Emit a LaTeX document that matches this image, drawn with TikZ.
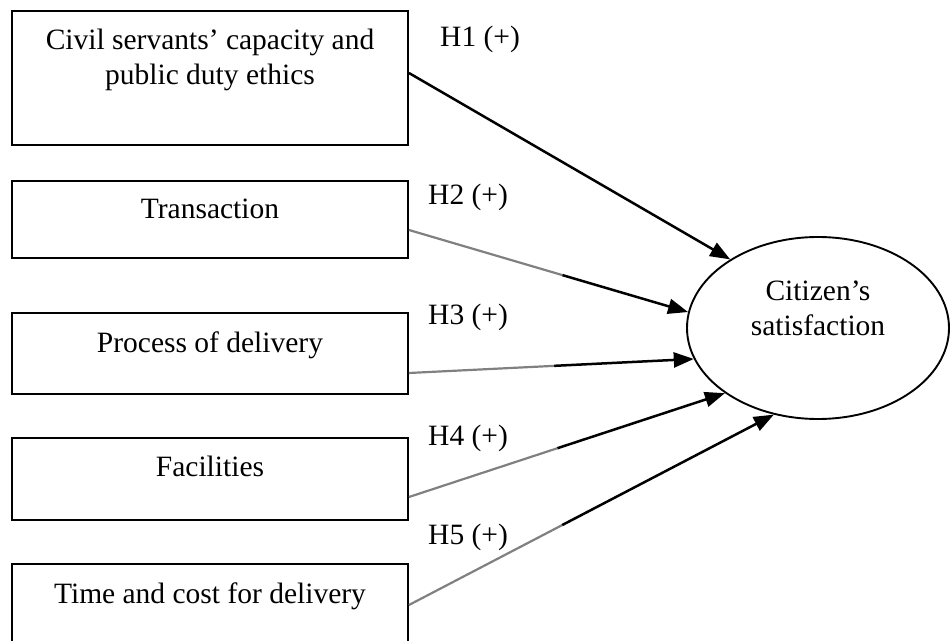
\documentclass[tikz,border=0pt]{standalone}
\usepackage{fontspec}
\setmainfont{Liberation Serif}
\usetikzlibrary{arrows.meta,calc,positioning,shapes.geometric}

\begin{document}
\begin{tikzpicture}[x=1pt,y=1pt,>={Triangle[length=20pt,width=15pt]},font=\fontsize{29.5}{35}\selectfont]
\tikzstyle{factor}=[draw=black,line width=1.9pt,minimum width=396pt,inner sep=0pt]
\tikzstyle{txt}=[anchor=north,inner sep=0pt,align=center,yshift=-19pt]
\tikzstyle{hyp}=[anchor=west,inner sep=0pt]
\tikzstyle{weak}=[draw=black!50,line width=2.2pt]
\tikzstyle{strong}=[->,draw=black,line width=2.5pt]

\clip (0,0) rectangle (950,640);

% independent variables
\node[factor,minimum height=134pt] (f1) at (210,562)
  [label={[txt]north:{Civil servants’ capacity and\\public duty ethics}}] {};
\node[factor,minimum height=77pt]  (f2) at (210,420.5)
  [label={[txt]north:Transaction}] {};
\node[factor,minimum height=81pt]  (f3) at (210,286.5)
  [label={[txt]north:Process of delivery}] {};
\node[factor,minimum height=82pt]  (f4) at (210,161)
  [label={[txt]north:Facilities}] {};
\node[factor,minimum height=96pt]  (f5) at (210,28)
  [label={[txt]north:Time and cost for delivery}] {};

% dependent variable
\node[ellipse,draw=black,line width=1.9pt,minimum width=262pt,minimum height=182pt,inner sep=0pt]
  (cs) at (818,312)
  [label={[anchor=center,inner sep=0pt,align=center,yshift=20pt]center:{Citizen’s\\satisfaction}}] {};

% hypotheses
\node[hyp] (h1) at (440,601) {H1 (+)};
\node[hyp] (h2) at (428,443) {H2 (+)};
\node[hyp] (h3) at (428,323) {H3 (+)};
\node[hyp] (h4) at (428,202) {H4 (+)};
\node[hyp] (h5) at (428,103) {H5 (+)};

% paths
\draw[strong] ([yshift=5pt]f1.east) -- (cs.142);

\coordinate (m2) at ($([yshift=-10.5pt]f2.east)!0.55!(cs.173.5)$);
\draw[weak] ([yshift=-10.5pt]f2.east) -- (m2);
\draw[strong] (m2) -- (cs.173.5);

\coordinate (m3) at ($([yshift=-19.5pt]f3.east)!0.51!(cs.194.5)$);
\draw[weak] ([yshift=-19.5pt]f3.east) -- (m3);
\draw[strong] (m3) -- (cs.194.5);

\coordinate (m4) at ($([yshift=-18pt]f4.east)!0.47!(cs.215)$);
\draw[weak] ([yshift=-18pt]f4.east) -- (m4);
\draw[strong] (m4) -- (cs.215);

\coordinate (m5) at ($([yshift=7pt]f5.east)!0.42!(cs.243.5)$);
\draw[weak] ([yshift=7pt]f5.east) -- (m5);
\draw[strong] (m5) -- (cs.243.5);
\end{tikzpicture}
\end{document}
